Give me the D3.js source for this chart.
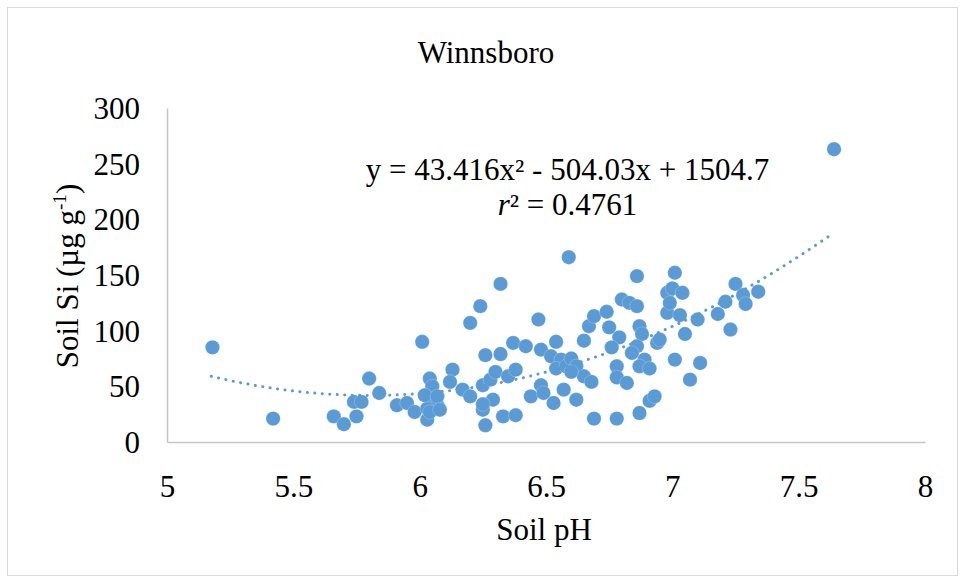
<!DOCTYPE html>
<html>
<head>
<meta charset="utf-8">
<script src="https://cdn.jsdelivr.net/npm/d3@7/dist/d3.min.js"></script>
<style>
  html, body { margin: 0; padding: 0; background: #fff; }
  svg { display: block; }
  text { font-family: "Liberation Serif", "Times New Roman", serif; fill: #000; }
</style>
</head>
<body>
<svg id="chart" width="965" height="581"></svg>
<script>
// ---- data ----
const title = "Winnsboro";
const xLabel = "Soil pH";
const xTicks = [5, 5.5, 6, 6.5, 7, 7.5, 8];
const yTicks = [0, 50, 100, 150, 200, 250, 300];
const phValues = [
  5.18, 5.42, 5.66, 5.70, 5.75, 5.74, 5.77, 5.80, 5.84, 5.91,
  5.95, 5.98, 6.01, 6.04, 6.03, 6.05, 6.05, 6.07, 6.03, 6.02,
  6.07, 6.04, 6.08, 6.13, 6.12, 6.17, 6.20, 6.20, 6.24, 6.32,
  6.26, 6.32, 6.25, 6.26, 6.25, 6.29, 6.28, 6.30, 6.33, 6.38,
  6.35, 6.38, 6.37, 6.42, 6.47, 6.48, 6.44, 6.49, 6.53, 6.48,
  6.52, 6.54, 6.56, 6.54, 6.57, 6.59, 6.58, 6.60, 6.62, 6.65,
  6.68, 6.62, 6.69, 6.78, 6.65, 6.67, 6.69, 6.74, 6.75, 6.79,
  6.76, 6.78, 6.78, 6.82, 6.80, 6.83, 6.86, 6.86, 6.87, 6.88,
  6.86, 6.84, 6.89, 6.87, 6.91, 6.87, 6.91, 6.93, 6.94, 6.95,
  6.98, 6.98, 7.01, 7.00, 7.04, 6.99, 7.03, 7.10, 7.05, 7.01,
  7.11, 7.07, 7.18, 7.21, 7.23, 7.25, 7.28, 7.29, 7.34, 7.64,
  6.60, 6.25
];
const siValues = [
  85, 21, 23, 16, 23, 36, 36, 57, 44, 33,
  35, 27, 90, 57, 20, 50, 39, 33, 30, 42,
  41, 27, 29, 65, 54, 47, 41, 107, 122, 142,
  78, 79, 51, 15, 29, 38, 56, 63, 23, 24,
  59, 65, 89, 86, 110, 51, 41, 44, 35, 83,
  77, 90, 74, 66, 47, 166, 68, 75, 68, 59,
  54, 38, 21, 21, 91, 104, 113, 117, 103, 94,
  85, 68, 58, 53, 128, 125, 122, 149, 104, 97,
  86, 80, 74, 68, 66, 26, 37, 41, 89, 92,
  134, 116, 152, 138, 134, 125, 114, 110, 97, 74,
  71, 56, 115, 126, 101, 142, 132, 124, 135, 263,
  63, 34
];
// displayed trendline: y = a x^2 + b x + c
const trendCoefs = [43.416, -504.03, 1504.7];
const equationText = "y = 43.416x\u00B2 - 504.03x + 1504.7";
const r2Value = "0.4761";

// ---- layout ----
const svg = d3.select("#chart");
const color = "#5B9BD5";
const FS = 31;

svg.append("rect")
  .attr("x", 7.5).attr("y", 7.5).attr("width", 950).attr("height", 568)
  .attr("fill", "#fff").attr("stroke", "#d9d9d9").attr("stroke-width", 1);

const x = d3.scaleLinear().domain([5, 8]).range([167, 925]);
const y = d3.scaleLinear().domain([0, 300]).range([442, 108]);

// axes
const xAxis = d3.axisBottom(x).tickValues(xTicks).tickSize(0).tickPadding(0).tickFormat(d3.format("~g"));
const yAxis = d3.axisLeft(y).tickValues(yTicks).tickSize(0).tickPadding(0).tickFormat(d3.format("~g"));

const gx = svg.append("g").attr("transform", `translate(0,${y(0)})`).call(xAxis);
gx.select(".domain").attr("stroke", "#c6c6c6").attr("stroke-width", 1.5);
gx.selectAll(".tick text")
  .attr("font-size", FS).attr("font-family", "Liberation Serif")
  .attr("fill", "#000").attr("dy", null).attr("y", 55);

const gy = svg.append("g").attr("transform", `translate(${x(5)},0)`).call(yAxis);
gy.select(".domain").attr("stroke", "#c6c6c6").attr("stroke-width", 1.5);
gy.selectAll(".tick text")
  .attr("font-size", FS).attr("font-family", "Liberation Serif")
  .attr("fill", "#000").attr("x", -27).attr("dy", "0.34em");

// points
svg.append("g").selectAll("circle")
  .data(phValues.map((p, i) => ({ ph: p, si: siValues[i] })))
  .join("circle")
  .attr("cx", d => x(d.ph))
  .attr("cy", d => y(d.si))
  .attr("r", 7.2)
  .attr("fill", color)
  .attr("stroke", "#ffffff")
  .attr("stroke-opacity", 0.35)
  .attr("stroke-width", 0.6);

// trendline from displayed polynomial
const [a, b, c] = trendCoefs;
const xMin = d3.min(phValues) - 0.005, xMax = d3.max(phValues) - 0.005;
const trendPts = d3.range(0, 201).map(i => {
  const xv = xMin + (xMax - xMin) * i / 200;
  return [xv, a * xv * xv + b * xv + c];
});
svg.append("path")
  .datum(trendPts)
  .attr("d", d3.line().x(d => x(d[0])).y(d => y(d[1])))
  .attr("fill", "none")
  .attr("stroke", color)
  .attr("stroke-width", 3)
  .attr("stroke-linecap", "round")
  .attr("stroke-dasharray", "0.1 7.4");

// title
svg.append("text")
  .attr("x", 486).attr("y", 63)
  .attr("text-anchor", "middle").attr("font-size", FS)
  .text(title);

// equation
svg.append("text")
  .attr("x", 567.5).attr("y", 180)
  .attr("text-anchor", "middle").attr("font-size", FS)
  .text(equationText);
const r2 = svg.append("text")
  .attr("x", 567.5).attr("y", 215)
  .attr("text-anchor", "middle").attr("font-size", FS);
r2.append("tspan").attr("font-style", "italic").text("r");
r2.append("tspan").text("\u00B2 = " + r2Value);

// x label
svg.append("text")
  .attr("x", 544).attr("y", 540)
  .attr("text-anchor", "middle").attr("font-size", FS)
  .text(xLabel);

// y label
const yl = svg.append("text")
  .attr("transform", "translate(78,276) rotate(-90)")
  .attr("text-anchor", "middle").attr("font-size", FS);
yl.append("tspan").text("Soil Si (\u00B5g g");
yl.append("tspan").attr("font-size", FS * 0.62).attr("dy", -12).text("-1");
yl.append("tspan").attr("dy", 12).text(")");
</script>
</body>
</html>
